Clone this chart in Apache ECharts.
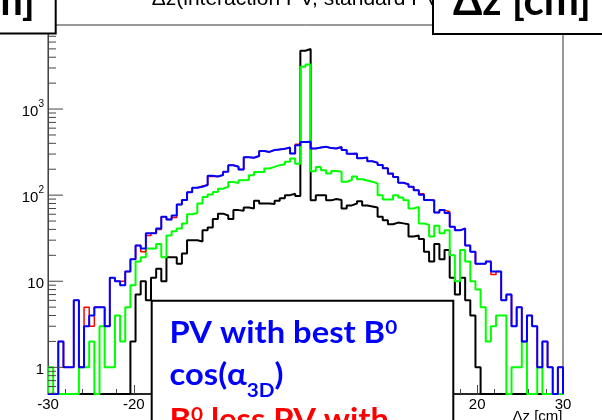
<!DOCTYPE html>
<html>
<head>
<meta charset="utf-8">
<script src="https://cdn.jsdelivr.net/npm/echarts@6/dist/echarts.min.js"></script>
<style>
  html, body { margin: 0; padding: 0; background: #ffffff; }
  #chart { width: 602px; height: 420px; }
</style>
</head>
<body>
<div id="chart"></div>
<script>
// Histogram binning: 100 bins of 0.6 cm between -30 and 30 cm
const X_MIN = -30;
const X_MAX = 30;
const BIN_WIDTH = 0.6;
const Y_MIN = 0.49;
const Y_MAX = 9470;

// x-axis major tick positions (cm)
const xTickValues = [-30, -20, -10, 0, 10, 20, 30];

// y-axis decade labels (log scale)
const yDecadeLabels = { 1: '{b|1}', 10: '{b|10}', 100: '{b|10}{s|2}', 1000: '{b|10}{s|3}' };

// Bin contents, one entry per bin from -30 cm upwards
const bestCosCounts = [
  0, 0, 2, 1, 1, 6, 1, 3, 4, 5,
  5, 3, 11, 10, 9, 13, 18, 26, 24, 36,
  36, 41, 56, 52, 58, 78, 88, 108, 122, 125,
  131, 168, 165, 171, 187, 222, 214, 199, 275, 272,
  285, 325, 318, 335, 340, 345, 358, 305, 380, 415,
  417, 349, 358, 365, 352, 349, 362, 335, 302, 305,
  268, 273, 248, 238, 224, 205, 178, 163, 139, 134,
  125, 114, 101, 88, 87, 63, 67, 62, 43, 39,
  41, 26, 22, 16, 16, 17, 13, 13, 6, 7,
  3, 5, 2, 4, 3, 1, 2, 1, 0, 1
];

const lessPVCounts = [
  0, 0, 2, 1, 1, 6, 1, 5, 3, 5,
  5, 3, 11, 10, 10, 13, 18, 26, 22, 34,
  36, 40, 56, 52, 55, 78, 88, 108, 122, 128,
  131, 165, 165, 171, 187, 222, 214, 199, 275, 272,
  285, 325, 318, 335, 340, 345, 358, 305, 390, 415,
  417, 349, 358, 365, 352, 349, 362, 335, 302, 296,
  268, 273, 248, 238, 224, 205, 176, 163, 139, 134,
  125, 114, 104, 88, 87, 63, 67, 64, 43, 39,
  41, 26, 22, 16, 16, 17, 12, 13, 6, 7,
  3, 5, 2, 4, 3, 1, 2, 1, 0, 1
];

const greenCounts = [
  1, 0, 0, 0, 0, 0, 1, 1, 2, 0,
  3, 1, 1, 4, 2, 5, 9, 17, 19, 24,
  24, 27, 19, 34, 38, 41, 47, 60, 62, 80,
  95, 102, 109, 119, 125, 142, 138, 149, 150, 170,
  186, 186, 204, 213, 223, 229, 244, 267, 232, 3100,
  3300, 190, 213, 195, 179, 191, 187, 143, 150, 165,
  153, 148, 143, 137, 100, 89, 89, 100, 94, 87,
  70, 73, 47, 45, 33, 44, 36, 39, 20, 10,
  23, 17, 10, 8, 5, 2, 3, 4, 4, 0,
  1, 1, 2, 0, 0, 1, 0, 0, 0, 0
];

const blackCounts = [
  0, 0, 0, 0, 0, 0, 0, 0, 0, 0,
  0, 0, 0, 0, 0, 0, 2, 7, 10, 6,
  11, 14, 10, 19, 19, 16, 21, 30, 30, 29,
  39, 42, 53, 61, 58, 53, 67, 66, 72, 70,
  86, 80, 80, 79, 86, 92, 100, 104, 98, 4750,
  5000, 87, 100, 100, 87, 90, 88, 70, 76, 80,
  85, 76, 74, 72, 56, 51, 46, 48, 47, 46,
  33, 34, 31, 22, 17, 27, 18, 23, 11, 7,
  11, 6, 4, 1, 0, 0, 0, 0, 0, 0,
  0, 0, 0, 0, 0, 0, 0, 0, 0, 0
];

// Step outline of a histogram; empty bins sit on the lower edge of the log axis
function histogramOutline(counts) {
  const pts = [[X_MIN, Y_MIN]];
  counts.forEach(function (c, i) {
    const v = c > 0 ? c : Y_MIN;
    pts.push([X_MIN + i * BIN_WIDTH, v]);
    pts.push([X_MIN + (i + 1) * BIN_WIDTH, v]);
  });
  pts.push([X_MAX, Y_MIN]);
  return pts;
}

// Log-axis tick values: 2..9 minor marks inside every decade
function logTickValues() {
  const out = [];
  for (let d = -1; d <= 3; d++) {
    for (let m = 1; m <= 9; m++) {
      const v = m * Math.pow(10, d);
      if (v >= Y_MIN && v <= Y_MAX) out.push([X_MIN, v, m === 1 ? 1 : 0]);
    }
  }
  return out;
}

function stepSeries(name, counts, color, width, z) {
  return {
    name: name,
    type: 'line',
    data: histogramOutline(counts),
    showSymbol: false,
    symbol: 'none',
    lineStyle: { color: color, width: width },
    emphasis: { disabled: true },
    animation: false,
    z: z
  };
}

const chart = echarts.init(document.getElementById('chart'), null, { renderer: 'canvas' });

const LEGEND_FONT = 'Lato';
const rich = {
  b: { fontFamily: LEGEND_FONT, fontWeight: 'bold', fontSize: 30, lineHeight: 30, verticalAlign: 'top' },
  p: { fontFamily: LEGEND_FONT, fontWeight: 'bold', fontSize: 19, lineHeight: 19, verticalAlign: 'top' },
  d: { fontFamily: LEGEND_FONT, fontWeight: 'bold', fontSize: 19, lineHeight: 19, verticalAlign: 'top', padding: [21, 0, 0, 0] }
};
function richColored(color) {
  const r = {};
  Object.keys(rich).forEach(function (k) { r[k] = Object.assign({}, rich[k], { color: color, fill: color }); });
  return r;
}

const option = {
  animation: false,
  backgroundColor: '#ffffff',
  grid: {
    left: 48, right: 39, top: 25, bottom: 26,
    show: true, borderColor: '#333333', borderWidth: 1, backgroundColor: 'transparent'
  },
  xAxis: {
    type: 'value',
    min: X_MIN, max: X_MAX, interval: 10,
    axisLine: { show: true, onZero: false, lineStyle: { color: '#000000', width: 1.5 } },
    axisTick: { show: true, inside: true, length: 9, lineStyle: { color: '#444444', width: 1 } },
    minorTick: { show: true, splitNumber: 5, length: 5, lineStyle: { color: '#444444', width: 1 } },
    splitLine: { show: false },
    axisLabel: {
      fontFamily: 'Liberation Sans', fontSize: 15, color: '#000000', margin: 3,
      formatter: function (v) { return xTickValues.indexOf(v) >= 0 ? String(v) : ''; }
    }
  },
  yAxis: {
    type: 'log', logBase: 10,
    min: Y_MIN, max: Y_MAX,
    axisLine: { show: true, onZero: false, lineStyle: { color: '#444444', width: 1 } },
    axisTick: { show: false },
    minorTick: { show: false },
    splitLine: { show: false },
    axisLabel: {
      margin: 4, color: '#000000', showMinLabel: false, showMaxLabel: false,
      formatter: function (v) {
        const e = Math.log10(v);
        const r = Math.round(e);
        if (Math.abs(e - r) > 1e-6) return '';
        return yDecadeLabels[Math.pow(10, r)] || '';
      },
      rich: {
        b: { fontFamily: 'Liberation Sans', fontSize: 15, lineHeight: 20, verticalAlign: 'bottom', color: '#000000' },
        s: { fontFamily: 'Liberation Sans', fontSize: 10, lineHeight: 12, verticalAlign: 'top', color: '#000000' }
      }
    }
  },
  series: [
    stepSeries('black', blackCounts, '#000000', 2, 2),
    stepSeries('green', greenCounts, '#00ff00', 2, 3),
    stepSeries('less PV', lessPVCounts, '#ff0000', 1.5, 4),
    stepSeries('best cos', bestCosCounts, '#0000ff', 2, 5),
    {
      name: 'log ticks',
      type: 'custom',
      silent: true,
      animation: false,
      z: 6,
      data: logTickValues(),
      renderItem: function (params, api) {
        const p = api.coord([api.value(0), api.value(1)]);
        const len = api.value(2) === 1 ? 15 : 8;
        return {
          type: 'line',
          shape: { x1: p[0], y1: p[1], x2: p[0] + len, y2: p[1] },
          style: { stroke: '#444444', lineWidth: 1 }
        };
      }
    }
  ],
  graphic: [
    {
      type: 'text', z: 50, x: 299, y: -0.5,
      style: {
        text: 'Δz(interaction PV, standard PV)', font: '21px "Liberation Sans"', fill: '#000000',
        align: 'center', textAlign: 'center', verticalAlign: 'middle', textVerticalAlign: 'middle'
      }
    },
    {
      type: 'rect', z: 60,
      shape: { x: -10, y: -10, width: 65.7, height: 43.5 },
      style: { fill: '#ffffff', stroke: '#000000', lineWidth: 2 }
    },
    {
      type: 'text', z: 61, x: 35, y: 1,
      style: {
        text: 'Δz [cm]', font: 'bold 42px Lato', fill: '#000000',
        align: 'right', textAlign: 'right', verticalAlign: 'middle', textVerticalAlign: 'middle'
      }
    },
    {
      type: 'rect', z: 60,
      shape: { x: 433, y: -10, width: 180, height: 44 },
      style: { fill: '#ffffff', stroke: '#000000', lineWidth: 2 }
    },
    {
      type: 'text', z: 61, x: 453, y: 1,
      style: {
        text: 'Δz [cm]', font: 'bold 42px Lato', fill: '#000000',
        align: 'left', textAlign: 'left', verticalAlign: 'middle', textVerticalAlign: 'middle'
      }
    },
    {
      type: 'text', z: 50, x: 562.5, y: 417,
      style: {
        text: 'Δz [cm]', font: '15px "Liberation Sans"', fill: '#000000',
        align: 'right', textAlign: 'right', verticalAlign: 'middle', textVerticalAlign: 'middle'
      }
    },
    {
      type: 'rect', z: 70,
      shape: { x: 151.7, y: 300.7, width: 301.6, height: 200 },
      style: { fill: '#ffffff', stroke: '#000000', lineWidth: 2 }
    },
    {
      type: 'text', z: 71, x: 169.5, y: 318.4, scaleX: 1.09,
      style: {
        text: '{b|PV with best B}{p|0}', rich: richColored('#0000ff'), fill: '#0000ff',
        align: 'left', textAlign: 'left', verticalAlign: 'top', textVerticalAlign: 'top'
      }
    },
    {
      type: 'text', z: 71, x: 169.5, y: 360.1, scaleX: 1.09,
      style: {
        text: '{b|cos(α}{d|3D}{b|)}', rich: richColored('#0000ff'), fill: '#0000ff',
        align: 'left', textAlign: 'left', verticalAlign: 'top', textVerticalAlign: 'top'
      }
    },
    {
      type: 'text', z: 71, x: 169.5, y: 405, scaleX: 1.09,
      style: {
        text: '{b|B}{p|0}{b| less PV with}', rich: richColored('#ff0000'), fill: '#ff0000',
        align: 'left', textAlign: 'left', verticalAlign: 'top', textVerticalAlign: 'top'
      }
    }
  ]
};

chart.setOption(option);
</script>
</body>
</html>
